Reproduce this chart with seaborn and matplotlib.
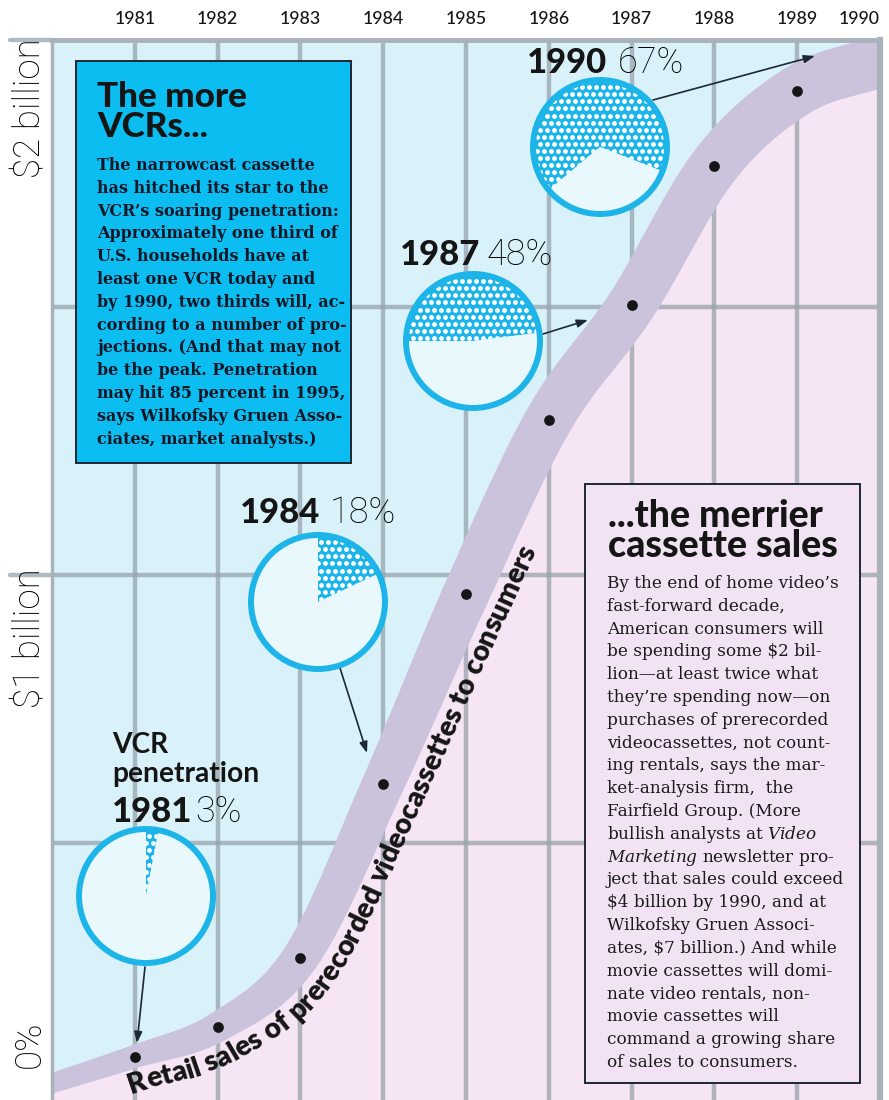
import numpy as np
import matplotlib
matplotlib.use("Agg")
import matplotlib.pyplot as plt
import seaborn as sns
from matplotlib.path import Path
from matplotlib.patches import PathPatch, Polygon, Rectangle, Circle
from matplotlib.transforms import IdentityTransform
from matplotlib.font_manager import FontProperties

# ---- values ----
years = [1981, 1982, 1983, 1984, 1985, 1986, 1987, 1988, 1989]
sales = [0.10, 0.155, 0.285, 0.61, 0.965, 1.29, 1.505, 1.765, 1.905]   # $ billion
# the grey band runs from the left frame (1980) to the 1990 projection
band_years = [1980] + years + [1990]
band_sales = [0.05] + sales + [1.96]
tick_years = [1981, 1982, 1983, 1984, 1985, 1986, 1987, 1988, 1989, 1990]
tick_labels = [str(y) for y in tick_years]
grid_levels = [0.5, 1.0, 1.5, 2.0]
value_labels = ["$2 billion", "$1 billion", "0%"]

pie_years = ["1981", "1984", "1987", "1990"]
pie_share = [3, 18, 48, 67]          # VCR penetration, % of households

curve_label = "Retail sales of prerecorded videocassettes to consumers"
left_title = ["The more", "VCRs..."]
left_body = [
    "The narrowcast cassette",
    "has hitched its star to the",
    "VCR’s soaring penetration:",
    "Approximately one third of",
    "U.S. households have at",
    "least one VCR today and",
    "by 1990, two thirds will, ac-",
    "cording to a number of pro-",
    "jections. (And that may not",
    "be the peak. Penetration",
    "may hit 85 percent in 1995,",
    "says Wilkofsky Gruen Asso-",
    "ciates, market analysts.)",
]
right_title = ["...the merrier", "cassette sales"]
right_body = [
    "By the end of home video’s",
    "fast-forward decade,",
    "American consumers will",
    "be spending some $2 bil-",
    "lion—at least twice what",
    "they’re spending now—on",
    "purchases of prerecorded",
    "videocassettes, not count-",
    "ing rentals, says the mar-",
    "ket-analysis firm,  the",
    "Fairfield Group. (More",
    r"bullish analysts at $\mathit{Video}$",
    r"$\mathit{Marketing}$ newsletter pro-",
    "ject that sales could exceed",
    "$4 billion by 1990, and at",
    "Wilkofsky Gruen Associ-",
    "ates, $7 billion.) And while",
    "movie cassettes will domi-",
    "nate video rentals, non-",
    "movie cassettes will",
    "command a growing share",
    "of sales to consumers.",
]

# ---- layout (pixels from the top-left corner) and colours ----
W, H = 889, 1100
AX_L, AX_R, AX_T, AX_B = 52, 880, 40, 1100
PX_PER_BILLION = 535

CYAN = "#d9f2fa"
PINK = "#f6e5f4"
BAND = "#cac3db"
GRID = "#97a3ac"
FRAME = "#a9b2ba"
PIE_BLUE = "#1db5e9"
PIE_FACE = "#e9f8fd"
BOX_BLUE = "#0bbdf1"
BOX_PINK = "#f1e3f4"
INK = "#151515"
THIN_FONT = dict(family="Roboto", weight="light")

pie_center = [(146, 896), (318, 602), (473, 341), (600, 147)]
pie_start = [90, 90, 180, 220]
PIE_R = 67
year_pos = [(112, 822), (240, 523), (400, 265), (527, 73)]
share_x = [195, 330, 487, 618]
arrow_from = [(145, 967), (340, 668), (543, 334), (653, 100)]
arrow_to = [(137, 1043), (367, 753), (588, 320), (815, 56)]
band_w_years = [1980, 1981, 1982, 1983, 1984, 1985, 1990]
band_w_px = [20, 23, 30, 37, 42, 47, 52]
TXT_X0, TXT_X1 = 131, 536


def fx(x):
    return x / W


def fy(y):
    return 1 - y / H


def ptext(x, y, s, **kw):
    kw.setdefault("parse_math", False)
    kw.setdefault("zorder", 4)
    return fig.text(fx(x), fy(y), s, **kw)


def fitted_size(sample, target_px, **font):
    fp = FontProperties(size=20, **font)
    w = renderer.get_text_width_height_descent(sample, fp, ismath=False)[0]
    return 20 * target_px / w


def block(x, first_baseline, lines, step, size, **font):
    # several lines as one text, baselines `step` px apart
    fp = FontProperties(size=size, **font)
    _, lp_h, lp_d = renderer.get_text_width_height_descent("lp", fp, ismath=False)
    ls = (step - lp_d) / (lp_h - lp_d)
    last = first_baseline + step * (len(lines) - 1)
    return ptext(x, last, "\n".join(lines), fontproperties=fp, linespacing=ls,
                 va="baseline", color=INK)


sns.set_theme(style="white")
plt.rcParams["font.family"] = ["Lato", "DejaVu Sans"]
plt.rcParams["mathtext.fontset"] = "custom"
plt.rcParams["mathtext.rm"] = "DejaVu Serif"
plt.rcParams["mathtext.it"] = "DejaVu Serif:italic"

fig = plt.figure(figsize=(W / 100, H / 100), dpi=100, facecolor="white")
renderer = fig.canvas.get_renderer()

ax = fig.add_axes([fx(AX_L), fy(AX_B), (AX_R - AX_L) / W, (AX_B - AX_T) / H])
ax.set_xlim(1980, 1990)
ax.set_ylim(2.0 - (AX_B - AX_T) / PX_PER_BILLION, 2.0)
ax.set_facecolor(CYAN)
ax.set_axisbelow("line")

# smooth path through the yearly values (cubic pieces with central-difference slopes)
bx = np.array(band_years, float)
by = np.array(band_sales, float)
slope = np.gradient(by, bx)
verts = [(bx[0], by[0])]
codes = [Path.MOVETO]
for i in range(len(bx) - 1):
    h = bx[i + 1] - bx[i]
    verts += [(bx[i] + h / 3, by[i] + slope[i] * h / 3),
              (bx[i + 1] - h / 3, by[i + 1] - slope[i + 1] * h / 3),
              (bx[i + 1], by[i + 1])]
    codes += [Path.CURVE4] * 3
curve = Path(verts, codes)

# pink below the curve, cyan above
ylo = ax.get_ylim()[0] - 0.1
under = Path(verts + [(bx[-1], ylo), (bx[0], ylo), (bx[0], by[0])],
             codes + [Path.LINETO, Path.LINETO, Path.CLOSEPOLY])
ax.add_patch(PathPatch(under, fc=PINK, ec="none", zorder=1))

# grey band of growing width, built around the curve in pixel space
pts = np.vstack([seg(np.linspace(0, 1, 80)) for seg, _ in curve.iter_bezier()])
keep = np.r_[True, np.any(np.abs(np.diff(pts, axis=0)) > 1e-12, axis=1)]
pts = pts[keep]
dp = ax.transData.transform(pts)
tan = np.gradient(dp, axis=0)
tan /= np.linalg.norm(tan, axis=1)[:, None]
nrm = np.column_stack([tan[:, 1], -tan[:, 0]])
wid = np.interp(pts[:, 0], band_w_years, band_w_px)

ext_p = np.vstack([dp[0] - 40 * tan[0], dp, dp[-1] + 40 * tan[-1]])
ext_n = np.vstack([nrm[0], nrm, nrm[-1]])
ext_w = np.r_[wid[0], wid, wid[-1]]
upper = ext_p - ext_n * ext_w[:, None] / 2
lower = ext_p + ext_n * ext_w[:, None] / 2
ax.add_patch(Polygon(np.vstack([upper, lower[::-1]]), closed=True,
                     transform=IdentityTransform(), fc=BAND, ec="none", zorder=2))

# yearly dots
sns.scatterplot(x=years, y=sales, ax=ax, color=INK, s=60, linewidth=0,
                zorder=3, legend=False)
ax.set_xlabel("")
ax.set_ylabel("")

# label running along the band
curve_font = dict(family="Lato", weight="heavy")


def advances(s, size):
    fp = FontProperties(size=size, **curve_font)
    ref = renderer.get_text_width_height_descent("||", fp, ismath=False)[0]
    return np.array([renderer.get_text_width_height_descent("|" + c + "|", fp, ismath=False)[0] - ref
                     for c in s])


def offset_line(size):
    off = wid / 2 + 1.5 + 0.75 * size * 100 / 72
    base = dp + nrm * off[:, None]
    arc = np.r_[0, np.cumsum(np.linalg.norm(np.diff(base, axis=0), axis=1))]
    return base, arc


csize = 14.0
for _ in range(4):
    base, arc = offset_line(csize)
    s0 = np.interp(TXT_X0, base[:, 0], arc)
    s1 = np.interp(TXT_X1, base[:, 0], arc)
    csize = csize * (s1 - s0) / advances(curve_label, csize).sum()
base, arc = offset_line(csize)
s0 = np.interp(TXT_X0, base[:, 0], arc)
adv = advances(curve_label, csize)
centres = s0 + np.cumsum(adv) - adv / 2
angle = np.degrees(np.unwrap(np.arctan2(tan[:, 1], tan[:, 0])))
cfp = FontProperties(size=csize, **curve_font)
for ch, c in zip(curve_label, centres):
    ax.text(np.interp(c, arc, base[:, 0]), np.interp(c, arc, base[:, 1]), ch,
            transform=IdentityTransform(), rotation=np.interp(c, arc, angle),
            rotation_mode="anchor", ha="center", va="baseline",
            fontproperties=cfp, color=INK, zorder=4, parse_math=False)

# grid, frame and ticks
tick_size = fitted_size("1982", 41, family="Lato", weight="medium")
ax.set_xticks(tick_years, labels=tick_labels)
ax.set_yticks(grid_levels, labels=[])
ax.grid(True, color=GRID, lw=3.2, alpha=0.75)
ax.tick_params(axis="x", bottom=False, labelbottom=False, top=True, labeltop=True,
               length=0, pad=9, labelsize=tick_size, labelcolor=INK)
ax.tick_params(axis="y", left=False, length=0)
for lbl in ax.get_xticklabels():
    lbl.set_fontweight("medium")
ax.xaxis.get_major_ticks()[-1].label2.set_horizontalalignment("right")
for side, lw in [("top", 3.5), ("right", 4.5), ("left", 2.5)]:
    ax.spines[side].set_color(FRAME)
    ax.spines[side].set_linewidth(lw)
ax.spines["bottom"].set_visible(False)
for lv in [1.0, 2.0]:
    ax.axhline(lv, xmin=-(AX_L - 10) / (AX_R - AX_L), xmax=0, color=GRID,
               lw=3.2, alpha=0.75, clip_on=False)

ylab_size = fitted_size(value_labels[0], 140, **THIN_FONT)
for s, top in zip(value_labels, [38, 568, 1020]):
    ptext(30, top, s, rotation=90, ha="center", va="top", fontsize=ylab_size,
          color="black", **THIN_FONT)


# penetration pies
def draw_pie(cx, cy, share, start):
    half = PIE_R * 1.08
    pax = fig.add_axes([fx(cx - half), fy(cy + half), 2 * half / W, 2 * half / H])
    wedges, _ = pax.pie([share, 100 - share], startangle=start, counterclock=False,
                        colors=[PIE_BLUE, PIE_FACE], wedgeprops=dict(linewidth=0))
    pax.set_xlim(-1.08, 1.08)
    pax.set_ylim(-1.08, 1.08)
    step = 0.105
    g = np.arange(-1.0, 1.0001, step)
    gx, gy = np.meshgrid(g, g)
    gx[1::2] += step / 2
    pax.scatter(gx.ravel(), gy.ravel(), s=12, color="white", linewidths=0,
                clip_path=wedges[0], zorder=3)
    pax.add_patch(Circle((0, 0), 1, fill=False, ec=PIE_BLUE, lw=4.3,
                         clip_on=False, zorder=4))


year_size = fitted_size("1984", 80, family="Lato", weight="black")
share_size = fitted_size("48%", 66, **THIN_FONT)
for (cx, cy), start, share, yr, (lx, ly), sx in zip(pie_center, pie_start, pie_share,
                                                    pie_years, year_pos, share_x):
    draw_pie(cx, cy, share, start)
    ptext(lx, ly, yr, fontsize=year_size, family="Lato", weight="black",
          va="baseline", color=INK)
    ptext(sx, ly, f"{share}%", fontsize=share_size, va="baseline", color="black",
          **THIN_FONT)

vcr_size = fitted_size("penetration", 147, family="Lato", weight="bold")
block(112, 753, ["VCR", "penetration"], 29, vcr_size, family="Lato", weight="bold")

for (x0, y0), (x1, y1) in zip(arrow_from, arrow_to):
    ax.annotate("", xy=(x1, H - y1), xytext=(x0, H - y0), xycoords="figure pixels",
                textcoords="figure pixels", annotation_clip=False, zorder=5,
                arrowprops=dict(arrowstyle="-|>,head_length=0.55,head_width=0.2",
                                color="#1c2833", lw=1.2, shrinkA=0, shrinkB=0))


# text boxes
def box(x0, y0, x1, y1, color):
    fig.add_artist(Rectangle((fx(x0), fy(y1)), (x1 - x0) / W, (y1 - y0) / H,
                             transform=fig.transFigure, fc=color, ec="#1d2733",
                             lw=1.4, zorder=3))


box(76, 61, 351, 463, BOX_BLUE)
box(585, 484, 860, 1083, BOX_PINK)

lt_size = fitted_size(left_title[0], 150, family="Lato", weight="black")
rt_size = fitted_size(right_title[0], 215, family="Lato", weight="black")
block(97, 107, left_title, 30, lt_size, family="Lato", weight="black")
block(608, 527, right_title, 30, rt_size, family="Lato", weight="black")

lb_size = fitted_size(left_body[11], 246, family="DejaVu Serif", weight="bold")
rb_size = fitted_size(right_body[0], 231, family="DejaVu Serif")
for i, s in enumerate(left_body):
    ptext(97, 170 + 22.8 * i, s, fontsize=lb_size, family="DejaVu Serif",
          weight="bold", va="baseline", color="#101828")
for i, s in enumerate(right_body):
    ptext(607, 588 + 22.8 * i, s, fontsize=rb_size, family="DejaVu Serif",
          va="baseline", color="#1a1a1a", parse_math="mathit" in s)

fig.savefig("out.png", dpi=100, facecolor="white")
